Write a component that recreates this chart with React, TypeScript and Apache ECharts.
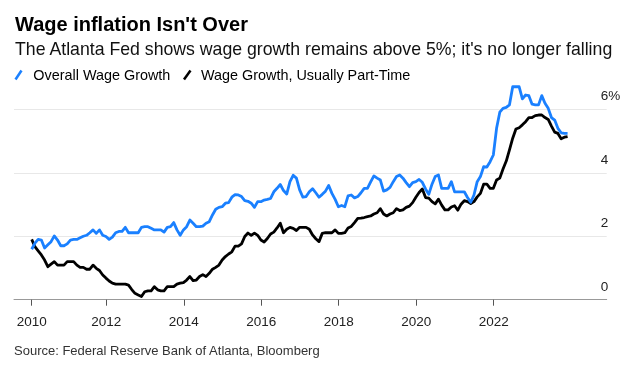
import { useEffect, useRef } from "react";
import * as echarts from "echarts";

// Monthly data, Jan 2010 .. Nov 2023 (3-month moving average, %)
const START_YEAR = 2010;

const overallWageGrowth = [
  1.59, 1.78, 1.9, 1.88, 1.63, 1.73, 1.83, 2.01, 1.88, 1.7, 1.7, 1.76,
  1.88, 1.9, 1.9, 1.95, 2.0, 2.03, 2.11, 2.2, 2.09, 2.2, 2.03, 1.99,
  1.9, 1.97, 2.11, 2.15, 2.15, 2.28, 2.11, 2.11, 2.11, 2.11, 2.28, 2.3,
  2.3, 2.25, 2.2, 2.2, 2.2, 2.13, 2.28, 2.3, 2.43, 2.2, 2.03, 2.2,
  2.3, 2.51, 2.41, 2.3, 2.3, 2.32, 2.41, 2.46, 2.67, 2.85, 2.91, 2.93,
  3.04, 3.06, 3.23, 3.31, 3.3, 3.25, 3.12, 3.1, 3.04, 2.91, 3.09, 3.09,
  3.14, 3.16, 3.19, 3.4, 3.51, 3.63, 3.44, 3.33, 3.72, 3.92, 3.83, 3.46,
  3.23, 3.25, 3.4, 3.5, 3.37, 3.23, 3.32, 3.42, 3.6, 3.35, 3.16, 2.93,
  2.97, 2.93, 3.27, 3.3, 3.21, 3.25, 3.37, 3.51, 3.51, 3.71, 3.9, 3.83,
  3.77, 3.42, 3.46, 3.54, 3.72, 3.88, 3.93, 3.83, 3.69, 3.56, 3.69, 3.72,
  3.79, 3.7, 3.49, 3.32, 3.64, 3.88, 3.93, 3.51, 3.51, 3.51, 3.72, 3.4,
  3.4, 3.4, 3.4, 3.22, 3.07, 3.3, 3.72, 3.88, 4.19, 4.18, 4.35, 4.56,
  5.4, 5.91, 6.03, 6.06, 6.14, 6.71, 6.71, 6.71, 6.33, 6.45, 6.43, 6.16,
  6.14, 6.14, 6.43, 6.19, 6.03, 5.74, 5.66, 5.4, 5.26, 5.24, 5.24,
];

const partTimeWageGrowth = [
  1.9, 1.67, 1.54, 1.41, 1.25, 1.04, 1.12, 1.2, 1.09, 1.09, 1.09, 1.2,
  1.2, 1.2, 1.09, 1.02, 1.02, 0.96, 0.96, 1.09, 0.99, 0.92, 0.78, 0.68,
  0.59, 0.52, 0.49, 0.49, 0.49, 0.49, 0.46, 0.32, 0.2, 0.15, 0.1, 0.25,
  0.28, 0.28, 0.41, 0.31, 0.28, 0.28, 0.41, 0.41, 0.41, 0.49, 0.52, 0.54,
  0.62, 0.73, 0.6, 0.62, 0.73, 0.79, 0.73, 0.83, 0.96, 1.02, 1.09, 1.25,
  1.36, 1.44, 1.51, 1.69, 1.69, 1.76, 1.99, 2.1, 2.03, 2.1, 2.03, 1.88,
  1.82, 1.93, 2.07, 2.13, 2.26, 2.41, 2.11, 2.22, 2.28, 2.25, 2.18, 2.28,
  2.28, 2.28, 2.22, 2.04, 1.92, 1.83, 2.09, 2.11, 2.11, 2.11, 2.2, 2.09,
  2.09, 2.11, 2.26, 2.31, 2.43, 2.56, 2.57, 2.59, 2.62, 2.64, 2.7, 2.74,
  2.87, 2.7, 2.64, 2.7, 2.74, 2.87, 2.81, 2.83, 2.91, 2.95, 3.06, 3.23,
  3.38, 3.49, 3.22, 3.2, 3.09, 3.02, 3.17, 2.98, 2.83, 2.83, 2.92, 2.96,
  2.82, 3.01, 3.12, 3.09, 3.03, 3.09, 3.24, 3.35, 3.64, 3.64, 3.51, 3.51,
  3.77, 3.83, 4.12, 4.37, 4.72, 5.09, 5.38, 5.42, 5.51, 5.61, 5.74, 5.74,
  5.8, 5.82, 5.82, 5.74, 5.68, 5.47, 5.28, 5.24, 5.07, 5.12, 5.14,
];

const yearLabels = [2010, 2012, 2014, 2016, 2018, 2020, 2022];
const yTickValues = [0, 2, 4, 6];

const TITLE = "Wage inflation Isn't Over";
const SUBTITLE =
  "The Atlanta Fed shows wage growth remains above 5%; it's no longer falling";
const LEGEND_OVERALL = "Overall Wage Growth";
const LEGEND_PART = "Wage Growth, Usually Part-Time";
const SOURCE = "Source: Federal Reserve Bank of Atlanta, Bloomberg";

const BLUE = "#1a80ff";
const FONT = "'Liberation Sans', Arial, Helvetica, sans-serif";

const monthToYear = (i: number) => START_YEAR + (i + 0.89) / 12;

export default function App() {
  const ref = useRef<HTMLDivElement>(null);

  useEffect(() => {
    if (!ref.current) return;
    const chart = echarts.init(ref.current, null, { renderer: "svg" });

    const blueData = overallWageGrowth.map((v, i) => [monthToYear(i), v]);
    const blackData = partTimeWageGrowth.map((v, i) => [monthToYear(i), v]);
    const xTickValues = yearLabels.map((y, i) => (i === 0 ? monthToYear(0) : y));

    chart.setOption({
      animation: false,
      textStyle: { fontFamily: FONT },
      grid: { left: 14, right: 24.3, top: 109.3, bottom: 68.3, containLabel: false },
      xAxis: {
        type: "value",
        min: 2009.6175,
        max: 2024.917,
        axisLine: { show: true, lineStyle: { color: "#999", width: 1 } },
        axisTick: {
          show: true,
          customValues: xTickValues,
          length: 6,
          lineStyle: { color: "#555", width: 1 },
        },
        axisLabel: {
          customValues: xTickValues,
          formatter: (v: number) => String(Math.floor(v)),
          margin: 15,
          fontSize: 13.5,
          color: "#222",
          fontFamily: FONT,
        },
        splitLine: { show: false },
      },
      yAxis: {
        type: "value",
        position: "right",
        min: yTickValues[0],
        max: yTickValues[yTickValues.length - 1],
        interval: 2,
        axisLine: { show: false },
        axisTick: { show: false },
        axisLabel: {
          formatter: (v: number) => (v === 6 ? "6%" : String(v)),
          margin: -6,
          align: "left",
          verticalAlign: "bottom",
          lineHeight: 27,
          fontSize: 13.5,
          color: "#222",
          fontFamily: FONT,
        },
        splitLine: { show: true, lineStyle: { color: "#e8e8e8", width: 1 } },
      },
      series: [
        {
          name: LEGEND_PART,
          type: "line",
          data: blackData,
          showSymbol: false,
          clip: false,
          lineStyle: { color: "#000", width: 2.8, join: "round" },
          itemStyle: { color: "#000" },
          silent: true,
        },
        {
          name: LEGEND_OVERALL,
          type: "line",
          data: blueData,
          showSymbol: false,
          clip: false,
          lineStyle: { color: BLUE, width: 2.8, join: "round" },
          itemStyle: { color: BLUE },
          silent: true,
        },
      ],
      graphic: [
        {
          type: "text",
          x: 15,
          y: 23.5,
          style: {
            text: TITLE,
            fontSize: 20,
            fontWeight: "bold",
            fontFamily: FONT,
            fill: "#000",
            align: "left",
            verticalAlign: "middle",
          },
        },
        {
          type: "text",
          x: 15,
          y: 49.3,
          style: {
            text: SUBTITLE,
            fontSize: 17.7,
            fontFamily: FONT,
            fill: "#111",
            align: "left",
            verticalAlign: "middle",
          },
        },
        {
          type: "line",
          shape: { x1: 15.5, y1: 79.5, x2: 21.5, y2: 70.5 },
          style: { stroke: BLUE, lineWidth: 2.5 },
        },
        {
          type: "text",
          x: 33.3,
          y: 74.5,
          style: {
            text: LEGEND_OVERALL,
            fontSize: 14.4,
            fontFamily: FONT,
            fill: "#000",
            align: "left",
            verticalAlign: "middle",
          },
        },
        {
          type: "line",
          shape: { x1: 184, y1: 79.5, x2: 190.5, y2: 70.5 },
          style: { stroke: "#000", lineWidth: 2.5 },
        },
        {
          type: "text",
          x: 201,
          y: 74.5,
          style: {
            text: LEGEND_PART,
            fontSize: 14.4,
            fontFamily: FONT,
            fill: "#000",
            align: "left",
            verticalAlign: "middle",
          },
        },
        {
          type: "text",
          x: 14,
          y: 350.5,
          style: {
            text: SOURCE,
            fontSize: 13,
            fontFamily: FONT,
            fill: "#333",
            align: "left",
            verticalAlign: "middle",
          },
        },
      ],
    });

    return () => chart.dispose();
  }, []);

  return (
    <div
      ref={ref}
      style={{ position: "fixed", left: 0, top: 0, width: 631, height: 368 }}
    />
  );
}
